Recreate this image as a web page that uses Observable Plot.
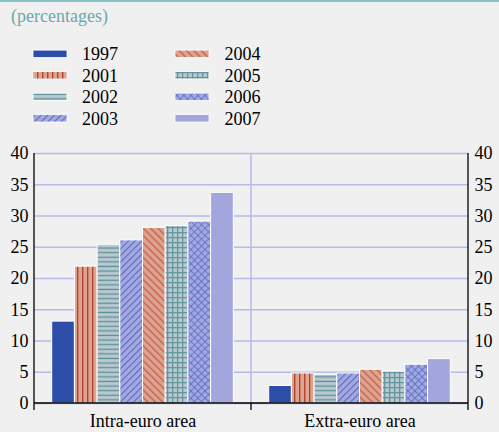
<!DOCTYPE html>
<html><head><meta charset="utf-8">
<script src="https://cdn.jsdelivr.net/npm/d3@7"></script>
<script src="https://cdn.jsdelivr.net/npm/@observablehq/plot@0.6"></script>
<style>
html,body{margin:0;padding:0;background:#f0f0f0;}
#wrap{position:relative;width:499px;height:432px;background:#f0f0f0;overflow:hidden;font-family:"Liberation Serif","Times New Roman",serif;}
#header{position:absolute;left:0;top:0;}
#chart{position:absolute;left:0;top:140px;}
</style></head><body>
<div id="wrap">
<svg id="header" width="499" height="140" font-family="Liberation Serif, Times New Roman, serif">
<defs>
  <pattern id="p1997" patternUnits="userSpaceOnUse" width="4" height="4"><rect width="4" height="4" fill="#2c4ea9"/></pattern>
  <pattern id="p2001" patternUnits="userSpaceOnUse" width="5" height="5"><rect width="5" height="5" fill="#dba691"/><rect x="2" width="1.4" height="5" fill="#b8412e"/></pattern>
  <pattern id="p2002" patternUnits="userSpaceOnUse" width="5" height="4.6"><rect width="5" height="4.6" fill="#b9c9d0"/><rect y="1.6" width="5" height="1.3" fill="#5d919b"/></pattern>
  <pattern id="p2003" patternUnits="userSpaceOnUse" width="4.7" height="4.7" patternTransform="rotate(45)"><rect width="4.7" height="4.7" fill="#a3a8de"/><rect x="2" width="0.9" height="4.7" fill="#4b5fc2"/></pattern>
  <pattern id="p2004" patternUnits="userSpaceOnUse" width="5.2" height="5.2" patternTransform="rotate(-45)"><rect width="5.2" height="5.2" fill="#dca48f"/><rect x="2" width="1" height="5.2" fill="#bf4a3b"/></pattern>
  <pattern id="p2005" patternUnits="userSpaceOnUse" width="5" height="5"><rect width="5" height="5" fill="#b9c9d0"/><rect x="2" width="1.3" height="5" fill="#63969f"/><rect y="2" width="5" height="1.3" fill="#63969f"/></pattern>
  <pattern id="p2006" patternUnits="userSpaceOnUse" width="5" height="5" patternTransform="rotate(45)"><rect width="5" height="5" fill="#a3a8de"/><rect x="2" width="0.8" height="5" fill="#5a6cc8"/><rect y="2" width="5" height="0.8" fill="#5a6cc8"/></pattern>
  <pattern id="p2007" patternUnits="userSpaceOnUse" width="4" height="4"><rect width="4" height="4" fill="#a2a6dc"/></pattern>
</defs>
</svg>
<div id="chart"></div>
</div>
<script>
const areas = ["Intra-euro area", "Extra-euro area"];
const years = ["1997", "2001", "2002", "2003", "2004", "2005", "2006", "2007"];
const intraValues = [13.1, 21.9, 25.4, 26.1, 28.1, 28.4, 29.1, 33.7];
const extraValues = [2.8, 4.8, 4.6, 4.8, 5.4, 5.1, 6.2, 7.1];
const yTicks = [0, 5, 10, 15, 20, 25, 30, 35, 40];
const titleText = "(percentages)";

const seriesByArea = [intraValues, extraValues];
const data = areas.flatMap((a, ai) => years.map((yr, i) => ({area: a, year: yr, value: seriesByArea[ai][i]})));

// Header: top rule, title, legend
const header = d3.select("#header");
header.append("rect").attr("x", 0).attr("y", 0).attr("width", 499).attr("height", 2).attr("fill", "#88c3c7");
header.append("text").attr("x", 11).attr("y", 21.5).attr("font-size", 18).attr("fill", "#6aaaaa").text(titleText);
const colX = [33, 175], textX = [82, 224.5];
years.forEach((yr, i) => {
  const col = i < 4 ? 0 : 1, row = i % 4;
  const cy = 53.8 + row * 21.5;
  header.append("rect").attr("x", colX[col]).attr("y", cy - 3.7).attr("width", 34).attr("height", 7.4)
    .attr("fill", `url(#p${yr})`).attr("stroke", "white").attr("stroke-width", 0.8);
  header.append("text").attr("x", textX[col]).attr("y", cy + 6.2).attr("font-size", 18).attr("fill", "black").text(yr);
});

const lav = "#b6bae8";
const plot = Plot.plot({
  width: 499, height: 292,
  marginTop: 13, marginBottom: 29, marginLeft: 34, marginRight: 31,
  style: {background: "transparent", fontFamily: "Liberation Serif, Times New Roman, serif", fontSize: "18px", color: "black"},
  fx: {domain: areas, padding: 0, label: null, round: false},
  x: {domain: years, paddingInner: 0, paddingOuter: 0.78, axis: null, round: false},
  y: {domain: [0, 40], label: null},
  color: {type: "identity"},
  marks: [
    Plot.gridY(yTicks, {stroke: lav, strokeOpacity: 1, strokeWidth: 1.5}),
    Plot.barY(data, {fx: "area", x: "year", y: "value", fill: d => `url(#p${d.year})`, stroke: "white", strokeWidth: 1, inset: 0}),
    Plot.axisY(yTicks, {anchor: "left", tickSize: 0, tickPadding: 6, label: null}),
    Plot.axisY(yTicks, {anchor: "right", tickSize: 0, tickPadding: 6, label: null}),
    Plot.axisFx({anchor: "bottom", tickSize: 0, tickPadding: 11, label: null})
  ]
});
document.getElementById("chart").appendChild(plot);

// Axis lines and facet separators from the scales
const fxS = plot.scale("fx"), yS = plot.scale("y");
const left = fxS.apply(areas[0]), mid = fxS.apply(areas[1]), right = mid + fxS.bandwidth;
const y0 = yS.apply(0), yTop = yS.apply(40);
const g = d3.select(plot).append("g");
g.append("line").attr("x1", mid).attr("x2", mid).attr("y1", yTop).attr("y2", y0).attr("stroke", lav).attr("stroke-width", 1.5);
g.append("line").attr("x1", left).attr("x2", right).attr("y1", y0).attr("y2", y0).attr("stroke", "black").attr("stroke-width", 1.4);
[left, right].forEach(x => g.append("line").attr("x1", x).attr("x2", x).attr("y1", yTop).attr("y2", y0 + 7).attr("stroke", "black").attr("stroke-width", 1.3));
g.append("line").attr("x1", mid).attr("x2", mid).attr("y1", y0).attr("y2", y0 + 7).attr("stroke", "black").attr("stroke-width", 1.3);
</script>
</body></html>
